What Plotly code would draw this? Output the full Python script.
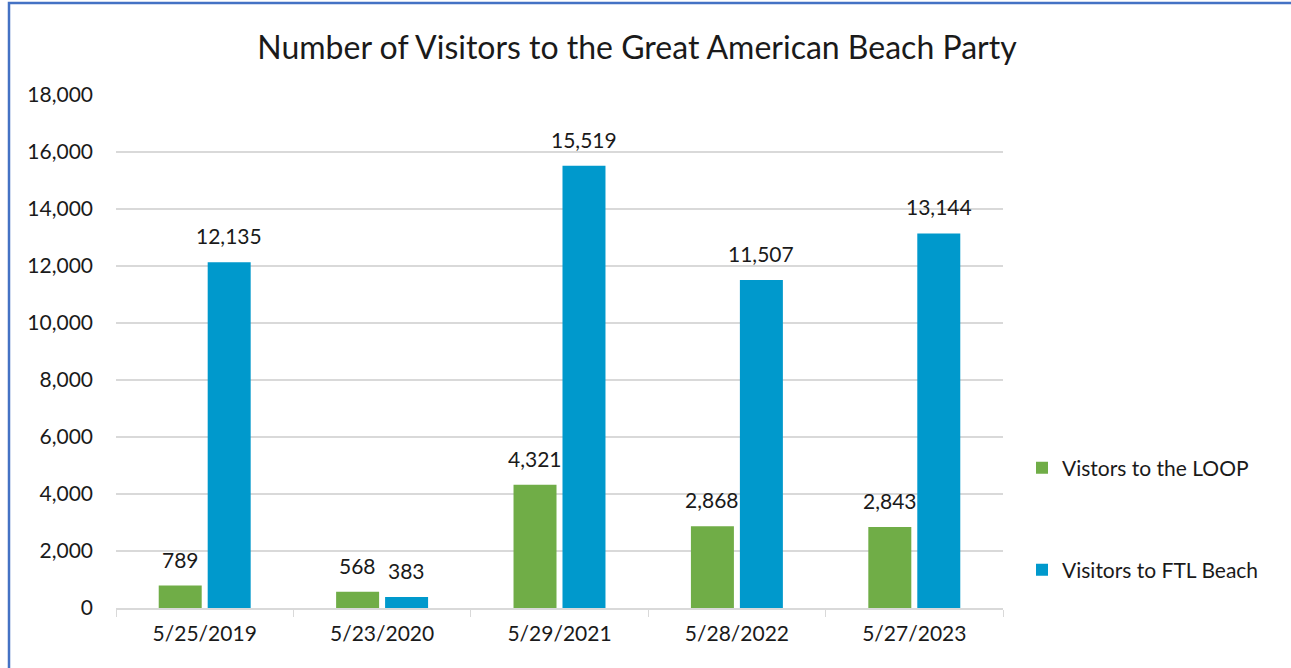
import plotly.graph_objects as go

dates = ["5/25/2019", "5/23/2020", "5/29/2021", "5/28/2022", "5/27/2023"]
loop_visitors = [789, 568, 4321, 2868, 2843]
ftl_visitors = [12135, 383, 15519, 11507, 13144]
series_names = ["Vistors to the LOOP", "Visitors to FTL Beach"]
y_ticks = [0, 2000, 4000, 6000, 8000, 10000, 12000, 14000, 16000, 18000]

FONT = "Lato, Carlito, Calibri, sans-serif"
W, H = 1291, 668
L, R, T, B = 116, 1003, 95, 608

fig = go.Figure()
fig.add_trace(go.Bar(
    x=dates, y=loop_visitors, name=series_names[0],
    marker=dict(color="#70AD47", line=dict(width=0)),
    legend="legend", showlegend=True,
))
fig.add_trace(go.Bar(
    x=dates, y=ftl_visitors, name=series_names[1],
    marker=dict(color="#0099CC", line=dict(width=0)),
    legend="legend2", showlegend=True,
))

annotations = []
for vals, shift in ((loop_visitors, -24.5), (ftl_visitors, 24.5)):
    for d, v in zip(dates, vals):
        annotations.append(dict(x=d, y=v, xref="x", yref="y", text=f"{v:,}",
                                showarrow=False, xshift=shift, yshift=12,
                                yanchor="bottom", xanchor="center",
                                font=dict(size=21, family=FONT, color="#1a1a1a")))

pw, ph = R - L, B - T
def px_x(p):
    return (p - L) / pw
def px_y(p):
    return (B - p) / ph

fig.update_layout(
    width=W, height=H,
    margin=dict(l=L, r=W - R, t=T, b=H - B, autoexpand=False),
    paper_bgcolor="white", plot_bgcolor="white",
    showlegend=True,
    font=dict(family=FONT, size=21, color="#1a1a1a"),
    title=dict(text="Number of Visitors to the Great American Beach Party",
               x=637 / W, xanchor="center", xref="container",
               y=1 - 48 / H, yanchor="middle", yref="container",
               font=dict(size=32, family=FONT, color="#1a1a1a")),
    barmode="group", bargap=0.448, bargroupgap=0.122,
    xaxis=dict(type="category", showgrid=False, showline=True, linecolor="#D9D9D9",
               linewidth=1.5, ticks="outside", tickson="boundaries", ticklen=7,
               tickcolor="#D9D9D9", tickfont=dict(size=21), ticklabelstandoff=6),
    yaxis=dict(range=[0, 18000], tickvals=y_ticks, tickformat=",", showgrid=True,
               gridcolor="#D9D9D9", gridwidth=1.5, zeroline=False, showline=False,
               ticks="", tickfont=dict(size=21), ticklabelstandoff=22),
    legend=dict(x=px_x(1022), xanchor="left", y=px_y(468), yanchor="middle",
                font=dict(size=21), itemwidth=30, bgcolor="rgba(0,0,0,0)"),
    legend2=dict(x=px_x(1022), xanchor="left", y=px_y(570), yanchor="middle",
                 font=dict(size=21), itemwidth=30, bgcolor="rgba(0,0,0,0)"),
    annotations=annotations,
    shapes=[dict(type="rect", xref="paper", yref="paper",
                 x0=px_x(9), x1=px_x(1400), y0=px_y(800), y1=px_y(3),
                 line=dict(color="#4472C4", width=2.5), fillcolor="rgba(0,0,0,0)",
                 layer="below")],
)

fig.write_html("out.html", config={"displayModeBar": False},
               post_script="document.body.style.margin='0';document.body.style.overflow='hidden';")
